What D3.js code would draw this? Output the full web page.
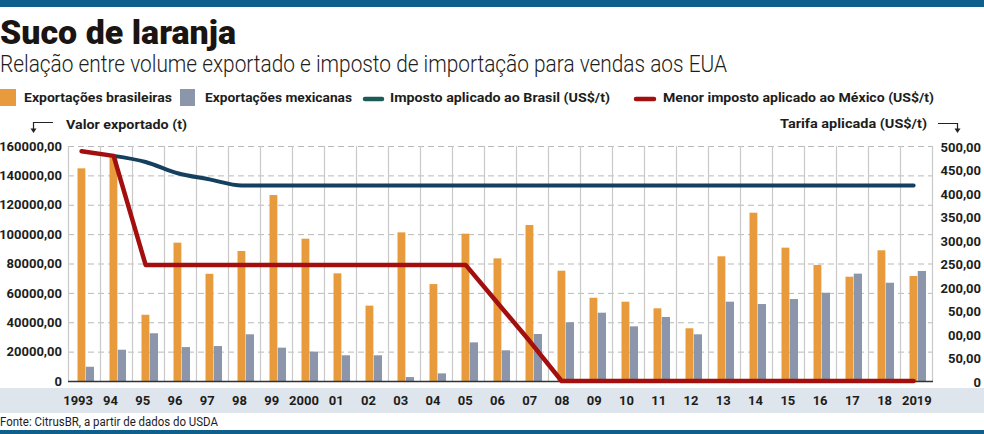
<html>
<head>
	<meta charset="utf-8">
	<title>Suco de laranja</title>
	<style>
		body { margin: 0; background: #fff; }
		text { font-family: Roboto, "Noto Sans", sans-serif; fill: #1d1d1b; }
		.axis path.domain { stroke: none; }
		.axis text { font-size: 13px; font-weight: 700; }
	</style>
	<script src="https://d3js.org/d3.v7.min.js" charset="utf-8"></script>
</head>

<body>
	<script type="text/javascript">

		/************** Data *****************/
		var years = ["1993","1994","1995","1996","1997","1998","1999","2000","2001","2002","2003","2004","2005","2006",
		             "2007","2008","2009","2010","2011","2012","2013","2014","2015","2016","2017","2018","2019"];
		var yearLabels = ["1993","94","95","96","97","98","99","2000","01","02","03","04","05","06",
		                  "07","08","09","10","11","12","13","14","15","16","17","18","2019"];
		// export volume (t)
		var expBrasil = [144800,153000,45100,94200,73000,88500,126600,96900,73300,51300,101200,66000,100300,83500,
		                 106200,75100,56700,54000,49500,35900,84900,114600,90800,79000,71000,89000,71500];
		var expMexico = [9700,21300,32500,23100,23800,31800,22700,20000,17500,17500,2700,5200,26300,20900,
		                 32000,40000,46500,37200,43600,31800,54000,52400,55800,60100,73100,66900,74900];
		// tariff (US$/t)
		var impostoBrasil = [null,479,466,442,429,416,416,416,416,416,416,416,416,416,
		                     416,416,416,416,416,416,416,416,416,416,416,416,416];
		var impostoMexico = [489,479,247,247,247,247,247,247,247,247,247,247,247,166,
		                     85,0,0,0,0,0,0,0,0,0,0,0,0];
		var leftTicks = [0,20000,40000,60000,80000,100000,120000,140000,160000];
		var rightTicks = [0,50,100,150,200,250,300,350,400,450,500];
		var rightTickLabels = ["0","50,00","00,00","50,00","200,00","250,00","300,00","350,00","400,00","450,00","500,00"];

		/************** Basic layout *****************/
		var width = 984, height = 434;
		var plot = {left: 68, right: 932, top: 146, bottom: 381};
		var colors = {br: "#e89b3c", mx: "#8b96aa", lineBr: "#143f5e", legendBr: "#1b5c56", lineMx: "#a30f0f"};

		var svg = d3.select("body")
				.append("svg")
				.attr("width", width)
				.attr("height", height);

		// top and bottom bars
		svg.append("rect").attr("x",0).attr("y",0).attr("width",width).attr("height",7).attr("fill","#0f5f8c");
		svg.append("rect").attr("x",0).attr("y",430).attr("width",width).attr("height",4).attr("fill","#0f5f8c");

		// title + subtitle
		svg.append("text").attr("x",0).attr("y",44)
			.attr("textLength",236).attr("lengthAdjust","spacingAndGlyphs")
			.style("font-size","34px").style("font-weight","900").style("fill","#1a1512")
			.text("Suco de laranja");
		svg.append("text").attr("x",0).attr("y",72)
			.attr("textLength",727).attr("lengthAdjust","spacingAndGlyphs")
			.style("font-size","23px").style("font-weight","300")
			.text("Relação entre volume exportado e imposto de importação para vendas aos EUA");

		/************** Legend *****************/
		function legendText(x, y, w, label){
			svg.append("text").attr("x",x).attr("y",y)
				.attr("textLength",w).attr("lengthAdjust","spacingAndGlyphs")
				.style("font-size","13.5px").style("font-weight","700")
				.text(label);
		}
		svg.append("rect").attr("x",0).attr("y",89).attr("width",16).attr("height",17).attr("fill",colors.br);
		legendText(24, 102, 148, "Exportações brasileiras");
		svg.append("rect").attr("x",180).attr("y",89).attr("width",15).attr("height",17).attr("fill",colors.mx);
		legendText(205, 102, 147, "Exportações mexicanas");
		svg.append("line").attr("x1",365).attr("x2",382).attr("y1",99).attr("y2",99)
			.attr("stroke",colors.legendBr).attr("stroke-width",4.5).attr("stroke-linecap","round");
		legendText(390, 102, 220, "Imposto aplicado ao Brasil (US$/t)");
		svg.append("line").attr("x1",636).attr("x2",654).attr("y1",99).attr("y2",99)
			.attr("stroke",colors.lineMx).attr("stroke-width",4.5).attr("stroke-linecap","round");
		legendText(663, 102, 271, "Menor imposto aplicado ao México (US$/t)");

		// axis titles with arrows
		legendText(66, 129, 121, "Valor exportado (t)");
		legendText(780, 128, 147, "Tarifa aplicada (US$/t)");
		svg.append("path").attr("d","M53,122.5H33.5V129").attr("fill","none").attr("stroke","#222").attr("stroke-width",1.2);
		svg.append("path").attr("d","M30.5,128.5L36.5,128.5L33.5,133Z").attr("fill","#222");
		svg.append("path").attr("d","M938,123.5H957.5V129").attr("fill","none").attr("stroke","#222").attr("stroke-width",1.2);
		svg.append("path").attr("d","M954.5,128.5L960.5,128.5L957.5,133Z").attr("fill","#222");

		/************** Scales *****************/
		var x = d3.scaleBand().domain(years).range([plot.left, plot.right]).padding(0);
		var xLabel = d3.scaleBand().domain(years).range([62, 933]).padding(0);
		var xSeries = d3.scaleBand().domain(["br","mx"]).range([9.5, 26]).padding(0);
		var yLeft = d3.scaleLinear().domain([0,160000]).range([plot.bottom, plot.top]);
		var yRight = d3.scaleLinear().domain([0,500]).range([plot.bottom, plot.top]);

		/************** Grid *****************/
		svg.append("g").selectAll("line")
			.data(leftTicks.filter(function(d){ return d > 0; }))
			.enter().append("line")
			.attr("x1",plot.left).attr("x2",plot.right + 1)
			.attr("y1",function(d){ return yLeft(d) + 0.5; })
			.attr("y2",function(d){ return yLeft(d) + 0.5; })
			.attr("stroke","#b9b9b9").attr("stroke-width",1).attr("stroke-dasharray","6,4");

		var vlines = years.map(function(y){ return x(y); }).concat([plot.right]);
		svg.append("g").selectAll("line")
			.data(vlines)
			.enter().append("line")
			.attr("x1",function(d){ return d + 0.5; })
			.attr("x2",function(d){ return d + 0.5; })
			.attr("y1",plot.top).attr("y2",plot.bottom)
			.attr("stroke","#c9c9c9").attr("stroke-width",1.2);

		/************** Bars *****************/
		svg.append("g").selectAll("rect")
			.data(expBrasil)
			.enter().append("rect")
			.attr("x",function(d,i){ return x(years[i]) + xSeries("br"); })
			.attr("width",xSeries.bandwidth() - 0.4)
			.attr("y",function(d){ return yLeft(d); })
			.attr("height",function(d){ return plot.bottom - yLeft(d); })
			.attr("fill",colors.br);
		svg.append("g").selectAll("rect")
			.data(expMexico)
			.enter().append("rect")
			.attr("x",function(d,i){ return x(years[i]) + xSeries("mx"); })
			.attr("width",xSeries.bandwidth())
			.attr("y",function(d){ return yLeft(d); })
			.attr("height",function(d){ return plot.bottom - yLeft(d); })
			.attr("fill",colors.mx);

		// baseline
		svg.append("line").attr("x1",plot.left).attr("x2",plot.right + 1)
			.attr("y1",plot.bottom + 0.5).attr("y2",plot.bottom + 0.5)
			.attr("stroke","#333").attr("stroke-width",1.6);

		/************** Lines *****************/
		var lineX = function(d,i){ return x(years[i]) + xSeries("br") + xSeries.bandwidth() / 2; };
		var lineBr = d3.line()
			.defined(function(d){ return d !== null; })
			.x(lineX).y(function(d){ return yRight(d); })
			.curve(d3.curveMonotoneX);
		var lineMx = d3.line()
			.x(lineX).y(function(d){ return yRight(d); });
		svg.append("path").datum(impostoBrasil).attr("d",lineBr)
			.attr("fill","none").attr("stroke",colors.lineBr).attr("stroke-width",4)
			.attr("stroke-linecap","round").attr("stroke-linejoin","round");
		svg.append("path").datum(impostoMexico).attr("d",lineMx)
			.attr("fill","none").attr("stroke",colors.lineMx).attr("stroke-width",4.5)
			.attr("stroke-linecap","round").attr("stroke-linejoin","round");

		/************** Axes *****************/
		var yAxisLeft = d3.axisLeft(yLeft)
			.tickValues(leftTicks).tickSize(0).tickPadding(6)
			.tickFormat(function(d){ return d === 0 ? "0" : d + ",00"; });
		svg.append("g").attr("class","axis")
			.attr("transform","translate(" + plot.left + ",0)").call(yAxisLeft);

		var yAxisRight = d3.axisRight(yRight)
			.tickValues(rightTicks).tickSize(0)
			.tickFormat(function(d,i){ return rightTickLabels[i]; });
		svg.append("g").attr("class","axis")
			.attr("transform","translate(" + plot.right + ",1)").call(yAxisRight)
			.selectAll("text").attr("x",49).attr("text-anchor","end");

		// year label band
		svg.append("rect").attr("x",0).attr("y",388).attr("width",width).attr("height",25).attr("fill","#dfe5ec");
		var xAxis = d3.axisBottom(xLabel).tickSize(0).tickPadding(0)
			.tickFormat(function(d,i){ return yearLabels[i]; });
		svg.append("g").attr("class","axis")
			.attr("transform","translate(0,396)").call(xAxis);

		// source
		svg.append("text").attr("x",0).attr("y",426)
			.attr("textLength",218).attr("lengthAdjust","spacingAndGlyphs")
			.style("font-size","12px")
			.text("Fonte: CitrusBR, a partir de dados do USDA");

	</script>
</body>
</html>
